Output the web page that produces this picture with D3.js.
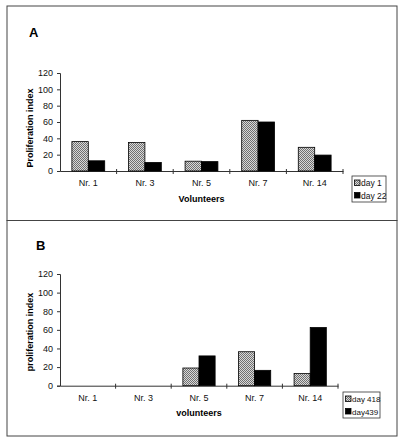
<!DOCTYPE html>
<html><head><meta charset="utf-8">
<script src="https://cdn.jsdelivr.net/npm/d3@7"></script>
<style>body{margin:0;background:#fff;} svg{font-family:Arial,"Liberation Sans",sans-serif;}</style>
</head><body>
<script>
const volunteers = ["Nr. 1","Nr. 3","Nr. 5","Nr. 7","Nr. 14"];
const seriesA = ["day 1","day 22"];
const day1 = [36, 35, 12, 62, 29];
const day22 = [12.5, 10.5, 11.5, 60, 19.5];
const seriesB = ["day 418","day439"];
const day418 = [null, null, 19, 36.5, 13];
const day439 = [null, null, 32, 16.5, 62.5];
const yTicks = [0,20,40,60,80,100,120];

const svg = d3.select("body").append("svg").attr("width",404).attr("height",445);
const defs = svg.append("defs");
const pat = defs.append("pattern").attr("id","chk").attr("patternUnits","userSpaceOnUse").attr("width",2).attr("height",2);
pat.append("rect").attr("width",2).attr("height",2).attr("fill","#d8d8d8");
pat.append("rect").attr("width",1).attr("height",1).attr("fill","#707070");
pat.append("rect").attr("x",1).attr("y",1).attr("width",1).attr("height",1).attr("fill","#707070");

// frames
svg.append("rect").attr("x",7).attr("y",6).attr("width",390).attr("height",214.5).attr("fill","none").attr("stroke","#444").attr("stroke-width",1);
svg.append("rect").attr("x",7).attr("y",220.5).attr("width",390).attr("height",215.5).attr("fill","none").attr("stroke","#444").attr("stroke-width",1);

function panel(cfg){
  const g = svg.append("g");
  const x = d3.scaleBand().domain(volunteers).range([cfg.x0,cfg.x1]).paddingInner(0).paddingOuter(0);
  const y = d3.scaleLinear().domain([0,120]).range([cfg.y0,cfg.y1]);
  const pad = x.bandwidth()*0.21;
  const sub = d3.scaleBand().domain([0,1]).range([pad, x.bandwidth()-pad]);
  const ya = g.append("g").attr("transform",`translate(${cfg.x0},0)`).call(d3.axisLeft(y).tickValues(yTicks).tickSize(3).tickPadding(4));
  ya.select(".domain").attr("stroke","#333");
  ya.selectAll("line").attr("stroke","#333");
  ya.selectAll("text").attr("font-size",9).attr("fill","#111");
  const xa = g.append("g").attr("transform",`translate(0,${cfg.y0})`).call(d3.axisBottom(x).tickSize(0).tickPadding(9));
  xa.select(".domain").attr("stroke","#333");
  xa.selectAll("text").attr("font-size",9).attr("fill","#111");
  g.selectAll(".ct").data(volunteers).enter().append("line")
    .attr("x1",d=>x(d)+x.bandwidth()).attr("x2",d=>x(d)+x.bandwidth())
    .attr("y1",cfg.y0-2).attr("y2",cfg.y0+3).attr("stroke","#333");
  const series = [cfg.s1, cfg.s2];
  series.forEach((vals,si)=>{
    g.selectAll(".b"+si).data(vals.map((v,i)=>({v,i}))).enter().filter(d=>d.v!=null)
      .append("rect")
      .attr("x",d=>x(volunteers[d.i])+sub(si))
      .attr("y",d=>y(d.v))
      .attr("width",sub.bandwidth())
      .attr("height",d=>cfg.y0-y(d.v))
      .attr("fill",si===0?"url(#chk)":"#000")
      .attr("stroke","#000").attr("stroke-width",0.8);
  });
  g.append("text").attr("x",cfg.lx).attr("y",cfg.ly).attr("font-size",13).attr("font-weight","bold").text(cfg.letter);
  g.append("text").attr("transform",`translate(${cfg.ytx},${cfg.yty}) rotate(-90)`).attr("text-anchor","middle")
    .attr("font-size",9).attr("font-weight","bold").text(cfg.ytitle);
  g.append("text").attr("x",(cfg.x0+cfg.x1)/2).attr("y",cfg.xty).attr("text-anchor","middle")
    .attr("font-size",9).attr("font-weight","bold").text(cfg.xtitle);
  const L = cfg.leg;
  g.append("rect").attr("x",L.x).attr("y",L.y).attr("width",L.w).attr("height",L.h).attr("fill","#fff").attr("stroke","#333").attr("stroke-width",0.8);
  cfg.names.forEach((n,i)=>{
    const yy = L.y + 7 + i*12.5;
    g.append("rect").attr("x",L.x+2.5).attr("y",yy-3).attr("width",5.5).attr("height",5.5)
      .attr("fill",i===0?"url(#chk)":"#000").attr("stroke","#000").attr("stroke-width",0.8);
    g.append("text").attr("x",L.x+9).attr("y",yy+3).attr("font-size",L.fs).attr("fill","#111").text(n);
  });
}

panel({x0:60,x1:343,y0:171,y1:73,s1:day1,s2:day22,letter:"A",lx:29,ly:37,
  ytitle:"Proliferation index",ytx:33,yty:128,xtitle:"Volunteers",xty:202,
  names:seriesA,leg:{x:352,y:176,w:34,h:26,fs:8.5}});
panel({x0:60,x1:338,y0:385.7,y1:274,s1:day418,s2:day439,letter:"B",lx:36,ly:250,
  ytitle:"proliferation index",ytx:33,yty:332,xtitle:"volunteers",xty:416,
  names:seriesB,leg:{x:343,y:392,w:37,h:26,fs:8}});
</script>
</body></html>
